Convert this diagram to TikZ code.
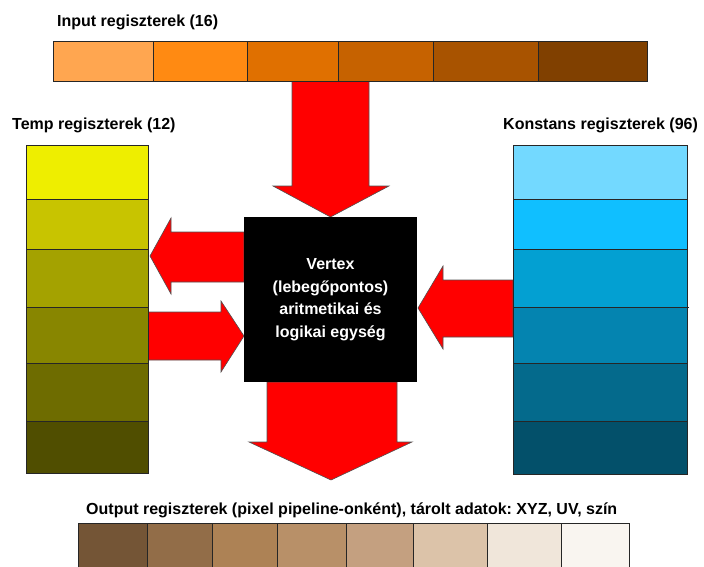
\documentclass[tikz,border=0pt]{standalone}
\usepackage{fontspec}
\setmainfont{Liberation Sans}
\usetikzlibrary{backgrounds}
\frenchspacing

% input register shades
\definecolor{inA}{HTML}{FFA650}
\definecolor{inB}{HTML}{FF8A12}
\definecolor{inC}{HTML}{E07000}
\definecolor{inD}{HTML}{C66200}
\definecolor{inE}{HTML}{A85300}
\definecolor{inF}{HTML}{804000}
% temp register shades
\definecolor{tmA}{HTML}{EEEE00}
\definecolor{tmB}{HTML}{C8C400}
\definecolor{tmC}{HTML}{A4A200}
\definecolor{tmD}{HTML}{888600}
\definecolor{tmE}{HTML}{6E6C00}
\definecolor{tmF}{HTML}{504E00}
% constant register shades
\definecolor{ksA}{HTML}{73D9FF}
\definecolor{ksB}{HTML}{10BFFF}
\definecolor{ksC}{HTML}{03A0D2}
\definecolor{ksD}{HTML}{0484B0}
\definecolor{ksE}{HTML}{046A8C}
\definecolor{ksF}{HTML}{03506A}
% output register shades
\definecolor{ouA}{HTML}{745536}
\definecolor{ouB}{HTML}{926D48}
\definecolor{ouC}{HTML}{AD8255}
\definecolor{ouD}{HTML}{B89068}
\definecolor{ouE}{HTML}{C4A080}
\definecolor{ouF}{HTML}{DCC3A9}
\definecolor{ouG}{HTML}{F0E6DA}
\definecolor{ouH}{HTML}{F9F5F0}
\definecolor{cellline}{HTML}{262626}
\definecolor{arrowline}{HTML}{505050}

\begin{document}
\begin{tikzpicture}[x=1pt,y=-1pt,
  cell/.style={draw=cellline, line width=1pt, inner sep=0pt, outer sep=0pt},
  blockarrow/.style={fill=red, draw=arrowline, line width=0.6pt, line join=miter},
  reglabel/.style={font=\bfseries\fontsize{16}{19}\selectfont, inner sep=0pt, anchor=west},
  alubox/.style={fill=black, text=white, inner sep=0pt, outer sep=0pt, align=center,
    font=\bfseries\fontsize{16}{22.5}\selectfont}]

\useasboundingbox (0,0) rectangle (704,566);
\clip (0,0) rectangle (704,566);

% input registers (top row)
\foreach \a/\b/\c [count=\i] in {53/153/inA,153/247/inB,247/338/inC,338/433/inD,433/538/inE,538/647/inF}
  \node[cell, fill=\c, minimum width={(\b-\a)*1pt}, minimum height=40pt] (in\i) at ({(\a+\b)/2},61) {};
\node[reglabel] (inlabel) at (57,22) {Input regiszterek (16)};

% temp registers (left column)
\foreach \a/\b/\c [count=\i] in {145/199/tmA,199/249/tmB,249/307/tmC,307/363/tmD,363/421/tmE,421/473/tmF}
  \node[cell, fill=\c, minimum width=122pt, minimum height={(\b-\a)*1pt}] (tmp\i) at (87,{(\a+\b)/2}) {};
\node[reglabel] (tmplabel) at (12,125) {Temp regiszterek (12)};

% constant registers (right column)
\foreach \a/\b/\c [count=\i] in {145/199/ksA,199/249/ksB,249/307/ksC,307/363/ksD,363/421/ksE,421/474/ksF}
  \node[cell, fill=\c, minimum width=174pt, minimum height={(\b-\a)*1pt}] (ks\i) at (600,{(\a+\b)/2}) {};
\draw[cellline, line width=1pt] (ks3.south east) -- ++(2,0);
\node[reglabel] (kslabel) at (503,125) {Konstans regiszterek (96)};

% output registers (bottom row)
\foreach \a/\b/\c [count=\i] in {78/147/ouA,147/212/ouB,212/277/ouC,277/346/ouD,346/413/ouE,413/487/ouF,487/561/ouG,561/629/ouH}
  \node[cell, fill=\c, minimum width={(\b-\a)*1pt}, minimum height=60pt] (out\i) at ({(\a+\b)/2},553) {};
\node[reglabel] (outlabel) at (86,510) {Output regiszterek (pixel pipeline-onként), tárolt adatok: XYZ, UV, szín};

% vertex arithmetic / logic unit
\node[alubox, minimum width=173pt, minimum height=165pt] (alu) at (330.5,299.5)
  {Vertex\\(lebegőpontos)\\aritmetikai és\\logikai egység};

% data-flow block arrows, kept behind the registers and the unit
\begin{scope}[on background layer]
  % input -> unit
  \draw[blockarrow] (292,81) -- (292,186) -- (273,186) -- (alu.north) -- (389,186) -- (369,186) -- (369,81) -- cycle;
  % unit -> temp
  \draw[blockarrow] (alu.west |- 0,232) -- (171,232) -- (171,218) -- (150,256) -- (171,294) -- (171,282) -- (alu.west |- 0,282) -- cycle;
  % temp -> unit
  \draw[blockarrow] (148,312) -- (221,312) -- (221,301) -- (244,336) -- (221,372) -- (221,360) -- (148,360) -- cycle;
  % constants -> unit
  \draw[blockarrow] (513,280) -- (443,280) -- (443,266) -- (418,308) -- (443,349) -- (443,337) -- (513,337) -- cycle;
  % unit -> output
  \draw[blockarrow] (267,382) -- (267,442) -- (249,442) -- (331,480) -- (412,442) -- (397,442) -- (397,382) -- cycle;
\end{scope}
\end{tikzpicture}
\end{document}
